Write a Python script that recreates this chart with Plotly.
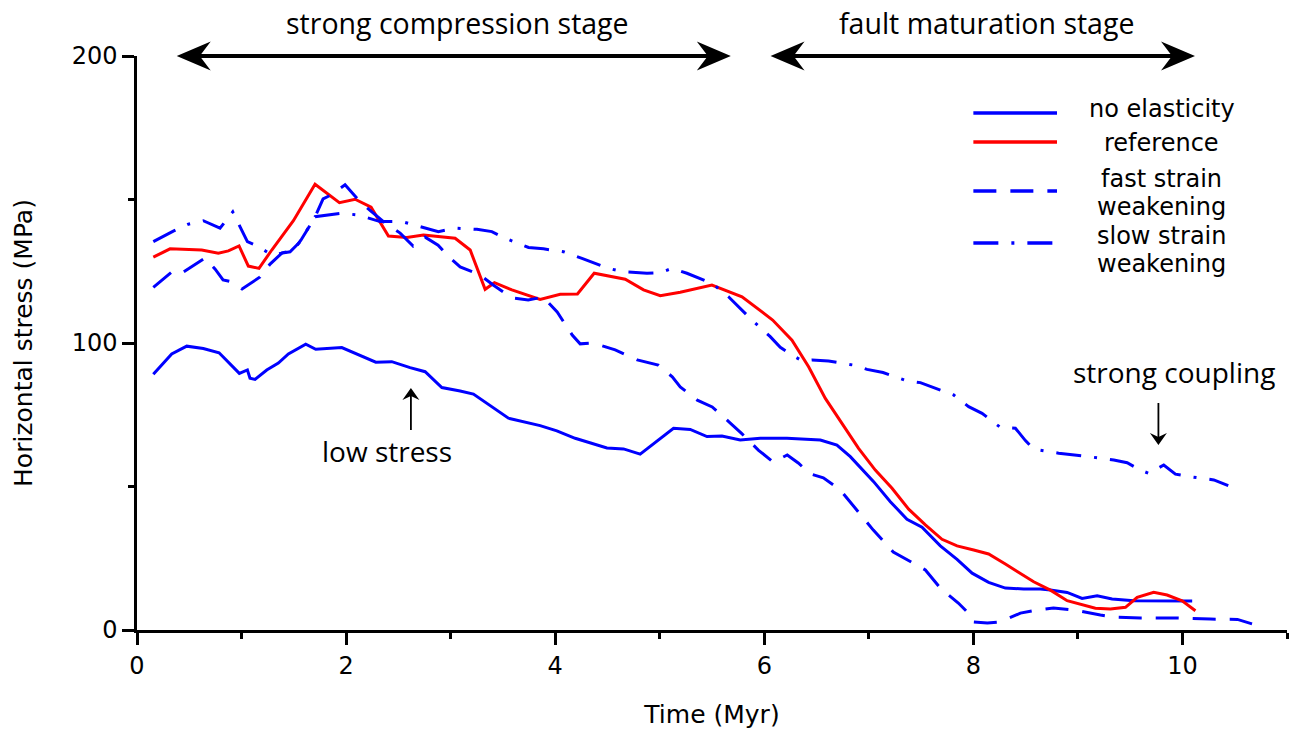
import plotly.graph_objects as go

# ---------------------------------------------------------------------------
# Model output: horizontal stress (MPa) through time (Myr)
# ---------------------------------------------------------------------------
time_no_elasticity = [0.156, 0.332, 0.476, 0.634, 0.785, 0.858, 0.979, 1.056, 1.081, 1.129,
                      1.241, 1.352, 1.448, 1.614, 1.710, 1.959, 2.134, 2.284, 2.437, 2.612,
                      2.756, 2.916, 3.091, 3.218, 3.553, 3.856, 4.016, 4.191, 4.495, 4.654,
                      4.813, 5.132, 5.292, 5.452, 5.595, 5.770, 5.962, 6.217, 6.536, 6.695,
                      6.823, 7.046, 7.206, 7.365, 7.509, 7.684, 7.844, 7.988, 8.146, 8.306,
                      8.481, 8.641, 8.737, 8.897, 9.040, 9.184, 9.327, 9.534, 10.093]
stress_no_elasticity = [89.1, 96.2, 98.9, 98.1, 96.6, 93.8, 89.4, 90.6, 87.7, 87.3,
                        90.6, 93.0, 96.2, 99.6, 97.8, 98.4, 95.6, 93.3, 93.5, 91.4,
                        90.0, 84.5, 83.3, 82.2, 73.8, 71.2, 69.4, 66.8, 63.4, 63.1,
                        61.3, 70.3, 69.9, 67.4, 67.6, 66.2, 66.8, 66.8, 66.2, 64.4,
                        60.4, 51.7, 44.7, 38.6, 35.8, 29.3, 24.6, 19.8, 16.6, 14.6,
                        14.3, 14.3, 13.9, 13.1, 11.0, 11.9, 10.8, 10.2, 10.1]

time_reference = [0.156, 0.316, 0.619, 0.778, 0.874, 0.976, 1.065, 1.167, 1.289, 1.400,
                  1.496, 1.703, 1.936, 2.086, 2.239, 2.405, 2.581, 2.740, 3.043, 3.187,
                  3.330, 3.419, 3.586, 3.856, 4.048, 4.213, 4.373, 4.670, 4.845, 5.005,
                  5.196, 5.499, 5.787, 6.080, 6.265, 6.424, 6.584, 6.743, 6.902, 7.062,
                  7.222, 7.381, 7.541, 7.700, 7.844, 8.003, 8.146, 8.306, 8.577, 8.737,
                  8.897, 9.167, 9.311, 9.455, 9.567, 9.725, 9.853, 9.997, 10.124]
stress_reference = [129.9, 132.8, 132.4, 131.3, 132.1, 133.8, 126.8, 126.0, 132.4, 137.9,
                    142.6, 155.3, 148.9, 150.1, 147.3, 137.3, 136.8, 137.6, 136.5, 132.4,
                    118.7, 121.0, 118.5, 115.2, 117.0, 117.1, 124.3, 122.2, 118.5, 116.5,
                    117.7, 120.2, 116.1, 108.0, 101.0, 91.7, 80.7, 72.0, 63.3, 55.7,
                    49.4, 42.1, 36.6, 31.6, 29.3, 27.9, 26.5, 23.0, 16.8, 13.9,
                    10.2, 7.6, 7.3, 7.9, 11.4, 13.1, 12.2, 10.2, 6.7]

time_fast_sw = [0.156, 0.344, 0.431, 0.651, 0.746, 0.823, 0.909, 1.005, 1.177, 1.273,
                1.388, 1.493, 1.569, 1.703, 1.780, 1.856, 1.990, 2.134, 2.249, 2.373,
                2.517, 2.641, 2.756, 2.880, 2.995, 3.091, 3.282, 3.407, 3.589, 3.742,
                3.885, 4.019, 4.163, 4.239, 4.364, 4.574, 4.785, 4.986, 5.120, 5.196,
                5.359, 5.502, 5.675, 5.780, 5.943, 6.086, 6.220, 6.325, 6.440, 6.565,
                6.727, 6.890, 7.043, 7.234, 7.397, 7.541, 7.684, 7.856, 7.952, 8.000,
                8.134, 8.258, 8.450, 8.612, 8.766, 8.957, 9.215, 9.340, 9.598, 9.933,
                10.268, 10.526, 10.670, 10.794]
stress_fast_sw = [119.4, 125.1, 124.4, 129.6, 125.8, 122.0, 121.3, 118.8, 123.0, 127.5,
                  131.4, 132.1, 135.9, 143.9, 150.2, 151.6, 155.1, 149.2, 145.6, 141.8,
                  138.3, 133.8, 136.9, 134.1, 129.6, 126.5, 123.7, 120.2, 115.7, 115.0,
                  116.0, 110.8, 102.8, 99.7, 100.0, 97.6, 94.1, 92.3, 88.2, 84.7,
                  80.1, 77.7, 72.1, 68.6, 62.7, 58.5, 61.0, 58.2, 54.4, 53.0,
                  48.8, 41.5, 34.8, 27.2, 23.7, 20.9, 14.6, 9.4, 5.9, 2.8,
                  2.4, 2.8, 5.9, 7.0, 7.7, 7.0, 5.2, 4.5, 4.2, 4.2,
                  3.8, 3.7, 2.1, 2.4]

time_slow_sw = [0.156, 0.347, 0.491, 0.634, 0.794, 0.916, 1.056, 1.161, 1.289, 1.464,
                1.560, 1.703, 1.959, 2.118, 2.325, 2.533, 2.883, 3.043, 3.251, 3.394,
                3.522, 3.745, 3.888, 4.080, 4.256, 4.510, 4.654, 4.878, 5.005, 5.117,
                5.260, 5.371, 5.500, 5.658, 5.787, 5.882, 6.057, 6.153, 6.265, 6.361,
                6.457, 6.615, 6.855, 6.983, 7.136, 7.366, 7.493, 7.636, 7.811, 7.955,
                8.083, 8.258, 8.402, 8.498, 8.577, 8.816, 8.976, 9.103, 9.343, 9.471,
                9.598, 9.678, 9.821, 9.933, 10.077, 10.300, 10.438]
stress_slow_sw = [135.3, 139.0, 141.4, 142.6, 140.0, 145.7, 135.3, 133.6, 130.7, 131.8,
                  135.3, 144.0, 145.2, 144.6, 142.3, 142.3, 138.8, 140.0, 139.6, 138.8,
                  136.5, 133.3, 132.8, 131.8, 129.5, 126.0, 124.8, 124.3, 124.5, 126.0,
                  124.3, 122.8, 120.8, 116.1, 111.5, 108.0, 102.2, 98.5, 95.8, 93.8,
                  94.1, 93.7, 92.3, 90.8, 89.7, 86.8, 86.2, 84.2, 81.9, 77.8,
                  75.5, 70.6, 70.3, 66.0, 63.0, 61.6, 61.0, 60.4, 59.2, 58.3,
                  55.7, 54.6, 57.5, 54.3, 53.4, 52.3, 50.3]

series_labels = [["no elasticity"], ["reference"],
                 ["fast strain", "weakening"], ["slow strain", "weakening"]]

x_tick_values = [0, 2, 4, 6, 8, 10]
x_minor_ticks = [1, 3, 5, 7, 9, 11]
y_tick_values = [0, 100, 200]
y_minor_ticks = [50, 150]

stage_labels = ["strong compression stage", "fault maturation stage"]
stage_spans = [(0.38, 5.68), (6.06, 10.12)]       # Myr

# ---------------------------------------------------------------------------
# Styling / layout
# ---------------------------------------------------------------------------
FIG_W, FIG_H = 1289, 734
MARGIN = dict(l=137, r=2, t=56, b=104)
X_RANGE = [0, 11]
Y_RANGE = [0, 200]
PLOT_W = FIG_W - MARGIN["l"] - MARGIN["r"]
PLOT_H = FIG_H - MARGIN["t"] - MARGIN["b"]
PX_PER_MPA = PLOT_H / (Y_RANGE[1] - Y_RANGE[0])

BLUE = "#0000ff"
RED = "#ff0000"
SANS = "DejaVu Sans, Verdana, sans-serif"
HUMANIST = "Open Sans, Noto Sans, sans-serif"

styles = [
    dict(color=BLUE, dash="solid"),
    dict(color=RED, dash="solid"),
    dict(color=BLUE, dash="23px,14px"),
    dict(color=BLUE, dash="25px,13px,3px,13px"),
]
series = [
    (time_no_elasticity, stress_no_elasticity),
    (time_reference, stress_reference),
    (time_fast_sw, stress_fast_sw),
    (time_slow_sw, stress_slow_sw),
]


def xp(x):
    """data x -> paper fraction"""
    return (x - X_RANGE[0]) / (X_RANGE[1] - X_RANGE[0])


def yp(y):
    """data y -> paper fraction"""
    return (y - Y_RANGE[0]) / (Y_RANGE[1] - Y_RANGE[0])


fig = go.Figure()
for (t, s), st, lab in zip(series, styles, series_labels):
    fig.add_trace(go.Scatter(
        x=t, y=s, mode="lines", name=" ".join(lab), showlegend=False,
        line=dict(color=st["color"], width=3, dash=st["dash"]),
        hoverinfo="skip",
    ))

shapes = []
annotations = []

# --- stage arrows above the plot ---
HEAD_LEN, HEAD_NOTCH, HEAD_HALF = 34, 23, 14.5
STAGE_LABEL_Y = 1 + 33 / PLOT_H          # paper units, above the top of the axes
for (a, b), label in zip(stage_spans, stage_labels):
    shapes.append(dict(type="line", xref="paper", yref="paper",
                       x0=xp(a) + (HEAD_NOTCH - 1) / PLOT_W,
                       x1=xp(b) - (HEAD_NOTCH - 1) / PLOT_W,
                       y0=1.0, y1=1.0, line=dict(color="black", width=4)))
    shapes.append(dict(type="path", xref="paper", yref="paper",
                       xsizemode="pixel", ysizemode="pixel",
                       xanchor=xp(a), yanchor=1.0,
                       path=f"M0,0 L{HEAD_LEN},{HEAD_HALF} L{HEAD_NOTCH},0 L{HEAD_LEN},{-HEAD_HALF} Z",
                       fillcolor="black", line=dict(width=0)))
    shapes.append(dict(type="path", xref="paper", yref="paper",
                       xsizemode="pixel", ysizemode="pixel",
                       xanchor=xp(b), yanchor=1.0,
                       path=f"M0,0 L{-HEAD_LEN},{HEAD_HALF} L{-HEAD_NOTCH},0 L{-HEAD_LEN},{-HEAD_HALF} Z",
                       fillcolor="black", line=dict(width=0)))
    annotations.append(dict(x=xp((a + b) / 2) + 0.003, y=STAGE_LABEL_Y,
                            xref="paper", yref="paper",
                            text=label, showarrow=False,
                            xanchor="center", yanchor="middle",
                            font=dict(family=HUMANIST, size=28.5, color="black")))

# --- pointer arrows with notes ---
notes = [
    # text, text x, text y, arrow x, arrow tail y, arrow tip y
    ("low stress", 2.39, 62.4, 2.62, 69.7, 84.3),
    ("strong coupling", 9.92, 89.9, 9.77, 79.1, 64.5),
]
for text, tx, ty, ax_, y_tail, y_tip in notes:
    annotations.append(dict(x=tx, y=ty, xref="x", yref="y", text=text,
                            showarrow=False, xanchor="center", yanchor="middle",
                            font=dict(family=HUMANIST, size=28, color="black")))
    up = 1 if y_tip > y_tail else -1
    shapes.append(dict(type="line", xref="x", yref="y",
                       x0=ax_, x1=ax_, y0=y_tail, y1=y_tip - up * 2.5,
                       line=dict(color="black", width=1.8)))
    shapes.append(dict(type="path", xref="x", yref="y",
                       xsizemode="pixel", ysizemode="pixel",
                       xanchor=ax_, yanchor=y_tip,
                       path=f"M0,0 L-8.5,{-12 * up} L0,{-8 * up} L8.5,{-12 * up} Z",
                       fillcolor="black", line=dict(width=0)))

# --- key ---
KEY_X0, KEY_X1, KEY_TEXT_X = 8.0, 8.80, 9.80
key_rows = [180.1, 170.0, 153.0, 134.8]         # sample line heights (MPa)
key_text_rows = [181.5, 169.7, 152.4, 132.4]    # label block centres (MPa)
KEY_FONT = 24
LINE_STEP = 28 / PX_PER_MPA                     # spacing of stacked label lines
for st, lab, ky, kty in zip(styles, series_labels, key_rows, key_text_rows):
    shapes.append(dict(type="line", xref="paper", yref="paper",
                       x0=xp(KEY_X0), x1=xp(KEY_X1), y0=yp(ky), y1=yp(ky),
                       line=dict(color=st["color"], width=3.5, dash=st["dash"])))
    n = len(lab)
    for i, line_text in enumerate(lab):
        y_line = kty + ((n - 1) / 2 - i) * LINE_STEP
        annotations.append(dict(x=KEY_TEXT_X, y=y_line, xref="x", yref="y",
                                text=line_text, showarrow=False, borderpad=0,
                                xanchor="center", yanchor="middle",
                                font=dict(family=SANS, size=KEY_FONT, color="black")))

axis_common = dict(
    showline=True, linecolor="black", linewidth=2.5,
    ticks="outside", ticklen=12, tickwidth=2.5, tickcolor="black",
    showgrid=False, zeroline=False,
    tickfont=dict(family=SANS, size=24, color="black"),
)

fig.update_layout(
    width=FIG_W, height=FIG_H,
    margin=MARGIN,
    paper_bgcolor="white", plot_bgcolor="white",
    showlegend=False,
    xaxis=dict(
        range=X_RANGE, tickmode="array", tickvals=x_tick_values,
        ticktext=[str(v) for v in x_tick_values],
        minor=dict(tickmode="array", tickvals=x_minor_ticks, ticks="outside",
                   ticklen=6, tickwidth=2.5, tickcolor="black", showgrid=False),
        title=dict(text="Time (Myr)", standoff=27,
                   font=dict(family=SANS, size=25, color="black")),
        **axis_common,
    ),
    yaxis=dict(
        range=Y_RANGE, tickmode="array", tickvals=y_tick_values,
        ticktext=[str(v) for v in y_tick_values],
        minor=dict(tickmode="array", tickvals=y_minor_ticks, ticks="outside",
                   ticklen=6, tickwidth=2.5, tickcolor="black", showgrid=False),
        title=dict(text="Horizontal stress (MPa)", standoff=32,
                   font=dict(family=SANS, size=25, color="black")),
        **axis_common,
    ),
    shapes=shapes,
    annotations=annotations,
)

fig.write_html("out.html")
